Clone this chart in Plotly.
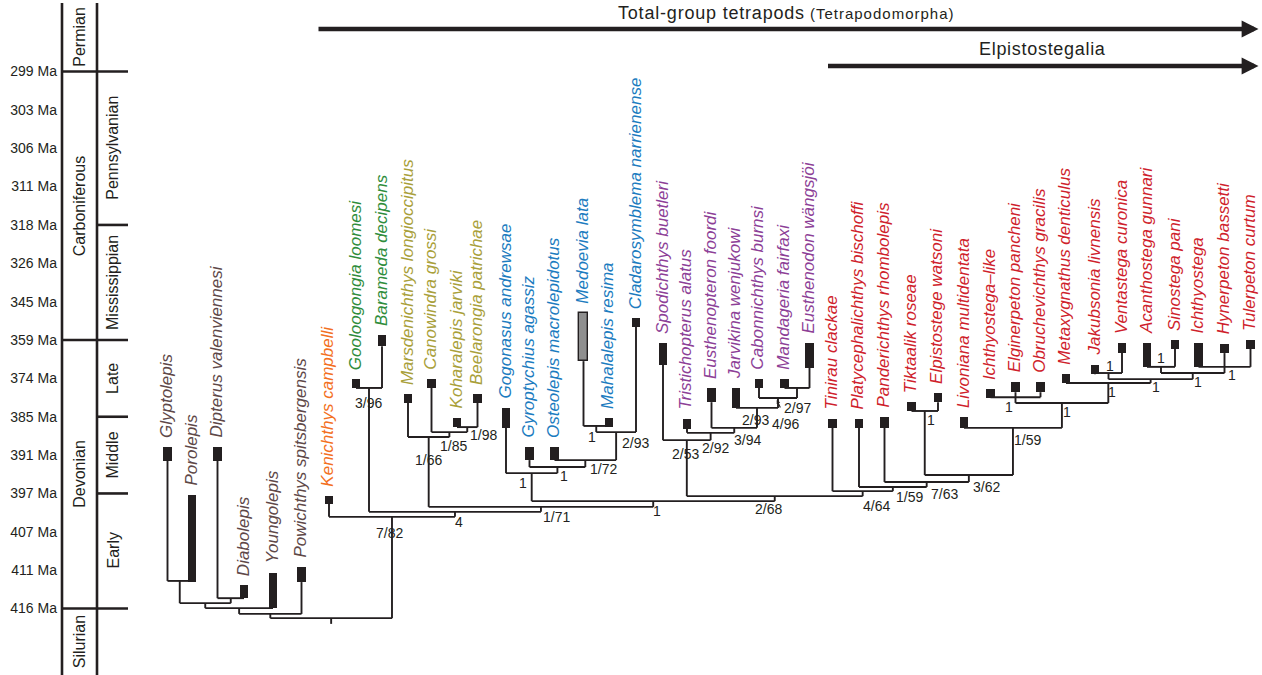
import plotly.graph_objects as go

# ---------------------------------------------------------------- data
# Stratigraphic ages shown on the vertical scale (evenly spaced positions)
TICK_MA = [299, 303, 306, 311, 318, 326, 345, 359, 374, 385, 391, 397, 407, 411, 416]

PERIODS = [("Permian", None, 299), ("Carboniferous", 299, 359),
           ("Devonian", 359, 416), ("Silurian", 416, None)]
EPOCHS = [("Pennsylvanian", 299, 318), ("Mississippian", 318, 359),
          ("Late", 359, 385), ("Middle", 385, 397), ("Early", 397, 416)]

TAXA = [
    "Glyptolepis", "Porolepis", "Dipterus valenviennesi", "Diabolepis",
    "Youngolepis", "Powichthys spitsbergensis", "Kenichthys campbelli",
    "Gooloogongia loomesi", "Barameda decipens", "Marsdenichthys longioccipitus",
    "Canowindra grossi", "Koharalepis jarviki", "Beelarongia patrichae",
    "Gogonasus andrewsae", "Gyroptychius agassiz", "Osteolepis macrolepidotus",
    "Medoevia lata", "Mahalalepis resima", "Cladarosymblema narrienense",
    "Spodichthys buetleri", "Tristichopterus alatus", "Eusthenopteron foordi",
    "Jarvikina wenjukowi", "Cabonnichthys burnsi", "Mandageria fairfaxi",
    "Eusthenodon wängsjöi", "Tinirau clackae", "Platycephalichthys bischoffi",
    "Panderichthys rhombolepis", "Tiktaalik roseae", "Elpistostege watsoni",
    "Livoniana multidentata", "Ichthyostega–like", "Elginerpeton pancheni",
    "Obruchevichthys gracilis", "Metaxygnathus denticulus", "Jakubsonia livnensis",
    "Ventastega curonica", "Acanthostega gunnari", "Sinostega pani",
    "Ichthyostega", "Hynerpeton bassetti", "Tulerpeton curtum",
]

GROUP = (["dipnomorph"] * 6 + ["kenichthys"] + ["canowindrid_a"] * 2 +
         ["canowindrid_b"] * 4 + ["osteolepid"] * 6 + ["tristichopterid"] * 7 +
         ["elpistostegalian"] * 17)

# horizontal slot of each terminal taxon
LEAF_X = [167.5, 192, 217.5, 244, 273, 301.5, 329, 356, 382, 408, 431.5, 457,
          477.5, 506, 529.5, 554.5, 583.5, 609, 636, 663, 687, 711.5, 736, 759,
          784.5, 809.5, 832.5, 859, 884.5, 911.5, 938, 964, 990.5, 1015.5,
          1040.5, 1066, 1095, 1122, 1147, 1175, 1198.5, 1224.5, 1250.5]

# stratigraphic range of each taxon, as position on the age scale
# (0 = 299 Ma tick, 14 = 416 Ma tick)
RANGE_TOP = [9.79, 11.04, 9.79, 13.39, 13.07, 12.92, 11.07, 8.02, 6.87, 8.41,
             8.02, 9.03, 8.41, 8.77, 9.79, 9.79, 6.30, 9.03, 6.43, 7.08, 9.06,
             8.25, 8.25, 8.02, 8.02, 7.08, 9.06, 9.06, 9.01, 8.62, 8.38, 9.01,
             8.28, 8.09, 8.09, 7.89, 7.65, 7.08, 7.08, 7.00, 7.08, 7.10, 7.00]
RANGE_BASE = [10.15, 13.31, 10.15, 13.73, 13.99, 13.31, 11.27, 8.25, 7.16, 8.64,
              8.25, 9.27, 8.64, 9.29, 10.13, 10.13, 7.55, 9.27, 6.66, 7.65, 9.32,
              8.62, 8.77, 8.25, 8.25, 7.73, 9.29, 9.29, 9.29, 8.85, 8.62, 9.29,
              8.51, 8.36, 8.36, 8.12, 7.89, 7.34, 7.70, 7.23, 7.70, 7.34, 7.23]

UNCERTAIN_RANGE = ["Medoevia lata"]


def N(key, level, support, *kids):
    return {"key": key, "level": level, "support": support, "kids": kids}


# cladogram: node level on the age scale and support value (Bremer/bootstrap)
gp = N("gp", 13.28, "", "Glyptolepis", "Porolepis")
dd = N("dd", 13.73, "", "Dipterus valenviennesi", "Diabolepis")
dip = N("dip", 13.86, "", gp, dd)
dy = N("dy", 13.99, "", dip, "Youngolepis")
dpw = N("dpw", 14.14, "", dy, "Powichthys spitsbergensis")

gb = N("gb", 8.25, "3/96", "Gooloogongia loomesi", "Barameda decipens")
n198 = N("n198", 9.27, "1/98", "Koharalepis jarviki", "Beelarongia patrichae")
n185 = N("n185", 9.40, "1/85", "Canowindra grossi", n198)
n166 = N("n166", 9.53, "1/66", "Marsdenichthys longioccipitus", n185)

mm = N("mm", 9.24, "1", "Medoevia lata", "Mahalalepis resima")
n293 = N("n293", 9.40, "2/93", mm, "Cladarosymblema narrienense")
n172 = N("n172", 10.13, "1/72", "Osteolepis macrolepidotus", n293)
gyr = N("gyr", 10.31, "1", "Gyroptychius agassiz", n172)
gog = N("gog", 10.47, "1", "Gogonasus andrewsae", gyr)

n297 = N("n297", 8.25, "2/97", "Mandageria fairfaxi", "Eusthenodon wängsjöi")
n496 = N("n496", 8.51, "4/96", "Cabonnichthys burnsi", n297)
n293b = N("n293b", 8.77, "2/93", "Jarvikina wenjukowi", n496)
n394 = N("n394", 9.29, "3/94", "Eusthenopteron foordi", n293b)
n292 = N("n292", 9.42, "2/92", "Tristichopterus alatus", n394)
n253 = N("n253", 9.61, "2/53", "Spodichthys buetleri", n292)

ih = N("ih", 7.70, "1", "Ichthyostega", "Hynerpeton bassetti", "Tulerpeton curtum")
acs = N("as", 7.70, "1", "Acanthostega gunnari", "Sinostega pani")
n1e = N("n1e", 7.86, "1", acs, ih)
jv = N("jv", 7.86, "1", "Jakubsonia livnensis", "Ventastega curonica")
n1d = N("n1d", 8.02, "1", jv, n1e)
n1c = N("n1c", 8.12, "1", "Metaxygnathus denticulus", n1d)
tri = N("tri", 8.49, "1", "Ichthyostega–like", "Elginerpeton pancheni",
        "Obruchevichthys gracilis")
n1b = N("n1b", 8.64, "1", tri, n1c)
n159b = N("n159b", 9.29, "1/59", "Livoniana multidentata", n1b)
te = N("te", 8.85, "1", "Tiktaalik roseae", "Elpistostege watsoni")
n362 = N("n362", 10.52, "3/62", te, n159b)
n763 = N("n763", 10.70, "7/63", "Panderichthys rhombolepis", n362)
n159a = N("n159a", 10.83, "1/59", "Platycephalichthys bischoffi", n763)
n464 = N("n464", 10.94, "4/64", "Tinirau clackae", n159a)

n268 = N("n268", 11.07, "2/68", n253, n464)
n1a = N("n1a", 11.20, "1", gog, n268)
n171 = N("n171", 11.35, "1/71", n166, n1a)
n4 = N("n4", 11.48, "4", gb, n171)
tet = N("tet", 11.61, "7/82", "Kenichthys campbelli", n4)
TREE = N("root", 14.25, "", dpw, tet)
ROOT_TICK_LEVEL = 14.40

# ---------------------------------------------------------------- styling
W, H = 1262, 675
LEFT = 55                 # left margin (px); x data units are page pixels
Y0, PITCH = 71.5, 38.36   # page y of first tick and spacing between ticks
INK = "#231f20"
FONT = "Liberation Sans, Arial, Helvetica, sans-serif"
GROUP_COLOR = {
    "dipnomorph": "#5e4848", "kenichthys": "#f36f21", "canowindrid_a": "#2f8d3c",
    "canowindrid_b": "#a9a03a", "osteolepid": "#1c7cc0",
    "tristichopterid": "#8d3f97", "elpistostegalian": "#cf1f2d",
}
# support-label placement relative to each node's stem (px right, px down)
LABEL_OFFSET = {
    "tet": (-2, 16), "n4": (4, 10), "gb": (-1, 15), "n171": (16, 10),
    "n166": (0, 23), "n185": (4, 14), "n198": (16, 8), "n1a": (4, 10),
    "gog": (-9, 10), "gyr": (7, 9), "n172": (18, 9), "n293": (19, 11),
    "mm": (-4, 11), "n268": (-6, 13), "n253": (-1, 14), "n292": (5, 15),
    "n394": (13, 12), "n293b": (-2, 12), "n496": (7, 26), "n297": (0, 20),
    "n464": (14, 15), "n159a": (17, 10), "n763": (18, 12), "n362": (18, 12),
    "te": (6, 9), "n159b": (15, 12), "n1b": (5, 9), "tri": (-7, 10),
    "n1c": (4, 9), "n1d": (5, 8), "jv": (1, -7), "n1e": (5, 9),
    "as": (0, -9), "ih": (7, 8),
}


def ma_pos(ma):
    return TICK_MA.index(ma)


y_top = -Y0 / PITCH
y_bottom = (H - Y0) / PITCH
leaf_x = dict(zip(TAXA, LEAF_X))
leaf_base = dict(zip(TAXA, RANGE_BASE))

# ---------------------------------------------------------------- tree geometry
line_x, line_y = [], []
node_marks = []


def seg(x0, y0, x1, y1):
    line_x.extend([x0, x1, None])
    line_y.extend([y0, y1, None])


def place(node):
    """Return (stem x, attach level) of a subtree, drawing its lines."""
    if isinstance(node, str):
        return leaf_x[node], leaf_base[node]
    kids = [place(k) for k in node["kids"]]
    xs = [k[0] for k in kids]
    lv = node["level"]
    for kx, ky in kids:
        seg(kx, ky, kx, lv)
    seg(min(xs), lv, max(xs), lv)
    stem = (min(xs) + max(xs)) / 2
    if node["support"]:
        node_marks.append((node["key"], stem, lv, node["support"]))
    return stem, lv


root_x, root_lv = place(TREE)
seg(root_x, root_lv, root_x, ROOT_TICK_LEVEL)

fig = go.Figure()
fig.add_trace(go.Scatter(x=line_x, y=line_y, mode="lines",
                         line=dict(color=INK, width=1.9), hoverinfo="skip",
                         showlegend=False))

bar_fill = ["#8f8f8f" if t in UNCERTAIN_RANGE else INK for t in TAXA]
bar_edge = [1.4 if t in UNCERTAIN_RANGE else 0 for t in TAXA]
fig.add_trace(go.Bar(x=LEAF_X, base=RANGE_TOP,
                     y=[b - t for t, b in zip(RANGE_TOP, RANGE_BASE)],
                     width=8.5,
                     marker=dict(color=bar_fill, line=dict(color=INK, width=bar_edge)),
                     hovertext=TAXA, hoverinfo="text", showlegend=False))

annotations = []

# taxon names
for name, x, top, grp in zip(TAXA, LEAF_X, RANGE_TOP, GROUP):
    annotations.append(dict(
        x=x, y=top, xref="x", yref="y", text=f"<i>{name}</i>", showarrow=False,
        textangle=-90, xanchor="center", yanchor="bottom", yshift=7, xshift=-1,
        font=dict(family=FONT, size=17, color=GROUP_COLOR[grp])))

# node support values
for key, sx, lv, txt in node_marks:
    dx, dy = LABEL_OFFSET[key]
    annotations.append(dict(
        x=sx, y=lv, xref="x", yref="y", text=txt, showarrow=False,
        xshift=dx, yshift=-dy, font=dict(family=FONT, size=14, color=INK)))

# pointer for the crowded 4/96 node
m496 = [m for m in node_marks if m[0] == "n496"][0]
annotations.append(dict(x=m496[1] - 2, y=m496[2], xref="x", yref="y", text="",
                        showarrow=True, ax=5, ay=11, arrowhead=2, arrowsize=0.7,
                        arrowwidth=1.1, arrowcolor=INK, standoff=2))

# clade arrows along the top
first_tet = leaf_x["Kenichthys campbelli"] - 12
first_elp = leaf_x["Tinirau clackae"] - 6
right_end = leaf_x["Tulerpeton curtum"] + 8
for x0, ypx in [(first_tet, 29), (first_elp, 66)]:
    annotations.append(dict(
        x=right_end, y=1 - ypx / H, xref="x", yref="paper", ax=x0, ay=0,
        axref="x", ayref="pixel", text="", showarrow=True, arrowhead=2,
        arrowsize=0.75, arrowwidth=4.5, arrowcolor=INK, standoff=0))
annotations.append(dict(
    x=786, y=1 - 13 / H, xref="x", yref="paper", showarrow=False,
    xanchor="center", yanchor="middle",
    text=("<span style='letter-spacing:0.8px'>Total-group tetrapods</span> "
          "<span style='font-size:15px;letter-spacing:1px'>(Tetrapodomorpha)</span>"),
    font=dict(family=FONT, size=18, color=INK)))
annotations.append(dict(
    x=1042, y=1 - 49 / H, xref="x", yref="paper", showarrow=False,
    xanchor="center", yanchor="middle",
    text="<span style='letter-spacing:0.7px'>Elpistostegalia</span>",
    font=dict(family=FONT, size=18, color=INK)))

# geological time column
PER_X0, EPO_X0, COL_X1 = 62, 97, 128
shapes = []
for xv in (PER_X0, EPO_X0):
    shapes.append(dict(type="line", xref="x", yref="y", x0=xv, x1=xv,
                       y0=(3 - Y0) / PITCH, y1=y_bottom,
                       line=dict(color=INK, width=2.6)))
period_bounds = sorted({b for _, a, c in PERIODS for b in (a, c) if b})
epoch_bounds = sorted({b for _, a, c in EPOCHS for b in (a, c) if b})
for ma in epoch_bounds:
    x0 = PER_X0 if ma in period_bounds else EPO_X0
    shapes.append(dict(type="line", xref="x", yref="y", x0=x0, x1=COL_X1,
                       y0=ma_pos(ma), y1=ma_pos(ma),
                       line=dict(color=INK, width=2.6)))


def span_mid(a, b):
    lo = ma_pos(a) if a else (3 - Y0) / PITCH
    hi = ma_pos(b) if b else y_bottom
    return (lo + hi) / 2


for name, a, b in PERIODS:
    annotations.append(dict(x=(PER_X0 + EPO_X0) / 2, y=span_mid(a, b), xref="x",
                            yref="y", text=name, showarrow=False, textangle=-90,
                            font=dict(family=FONT, size=16, color=INK)))
for name, a, b in EPOCHS:
    annotations.append(dict(x=(EPO_X0 + COL_X1) / 2, y=span_mid(a, b), xref="x",
                            yref="y", text=name, showarrow=False, textangle=-90,
                            font=dict(family=FONT, size=16, color=INK)))

fig.update_layout(
    width=W, height=H, margin=dict(l=LEFT, r=0, t=0, b=0),
    paper_bgcolor="white", plot_bgcolor="white",
    xaxis=dict(range=[LEFT, W], visible=False, fixedrange=True),
    yaxis=dict(range=[y_bottom, y_top], tickvals=list(range(len(TICK_MA))),
               ticktext=[f"{m} Ma" for m in TICK_MA], ticks="", showgrid=False,
               zeroline=False, showline=False, ticklabelstandoff=-3,
               tickfont=dict(family=FONT, size=14, color=INK), fixedrange=True),
    shapes=shapes, annotations=annotations, bargap=0,
)

fig.write_html("out.html")
